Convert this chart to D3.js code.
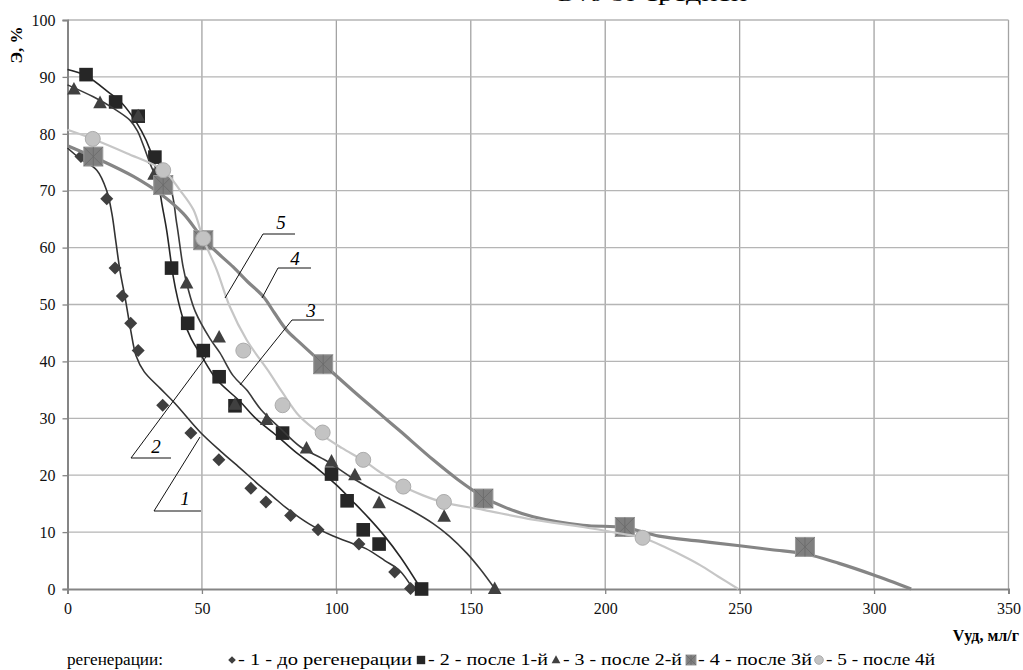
<!DOCTYPE html>
<html><head><meta charset="utf-8">
<script src="https://cdn.jsdelivr.net/npm/d3@7/dist/d3.min.js"></script>
<style>
body{margin:0;background:#fff;}
svg{display:block;}
</style></head>
<body><svg id="c" width="1023" height="670"></svg>
<script>
// ---- data ----
const xTicks = [0, 50, 100, 150, 200, 250, 300, 350];
const yTicks = [0, 10, 20, 30, 40, 50, 60, 70, 80, 90, 100];

const seriesNames = ["1 - до регенерации", "2 - после 1-й", "3 - после 2-й", "4 - после 3й", "5 - после 4й"];

const pts1 = [[5,76],[14.6,68.6],[17.7,56.4],[20.4,51.5],[23.5,46.7],[26.3,41.9],[35.4,32.3],[45.9,27.4],[56.3,22.7],[68.2,17.7],[73.8,15.3],[83,12.9],[93.2,10.4],[108.4,7.9],[121.7,3.0],[127.6,0.1]];
const pts2 = [[6.9,90.4],[17.9,85.6],[26.3,83.1],[32.5,75.9],[38.7,56.4],[44.7,46.7],[50.5,41.9],[56.4,37.3],[62.3,32.2],[80,27.4],[98.2,20.2],[104,15.5],[110,10.4],[115.9,7.9],[131.7,0]];
const pts3 = [[2.4,87.8],[12.1,85.4],[26.3,83.1],[32.2,72.8],[44.3,53.7],[56.4,44.2],[62.3,32.4],[74.1,29.7],[88.9,24.7],[98.2,22.4],[106.9,20.0],[115.9,15.1],[140.1,12.7],[158.9,0]];
const pts4 = [[9.6,76],[35.6,71],[50.5,61.3],[95.1,39.5],[154.7,15.9],[207.3,10.9],[274.3,7.4]];
const pts5 = [[9.4,79.1],[35.6,73.6],[50.5,61.6],[65.4,41.9],[80,32.3],[94.9,27.5],[110,22.7],[124.9,18.0],[140,15.3],[213.9,9.0]];

const curve1 = [[0,77.5],[5,75.5],[10.9,73.6],[14.6,70],[16.5,66],[18,61],[19.5,56],[21.5,51],[23.5,45.5],[25.5,41],[28.5,38.2],[34.4,35.3],[40,32.6],[49.3,27.6],[57,24.2],[64.1,21.3],[70,18.8],[76.5,16.2],[81.5,14.2],[90,11.4],[98.8,9.3],[106,8],[111,7.1],[118,5],[123.6,3.2],[128.5,0]];
const curve2 = [[0,91.3],[6.9,90.2],[15.8,87.1],[20,85.5],[23.9,83.2],[27.5,80.5],[30.7,77.2],[33.5,72.5],[35,68],[36.9,63],[39.3,55],[41,51],[43,47.5],[46,44],[49.3,41.4],[55.5,36.8],[64.1,33],[70,30],[77.7,27],[85,24],[92.6,21.3],[100,18.3],[106.3,15.3],[112,12.5],[117.4,9.6],[124,5.5],[131.5,0]];
const curve3 = [[0,88.6],[9.6,86.5],[17,84.5],[23.2,82.4],[26,80.5],[28.2,78],[31.9,73.5],[35,71.5],[38.1,70.5],[40.6,64.3],[43,56.6],[45,52.5],[47.5,48.8],[53,44],[56.7,41.5],[61.6,37.5],[66.6,35],[72,31.5],[79,28.3],[86.6,25],[96.4,22.5],[106,19.5],[117,16.5],[128,13.8],[136,11.5],[142,9.3],[148.5,6.3],[153.5,3.5],[159,0]];
const curve4 = [[0,77.9],[12.1,75.4],[24.5,72.5],[34.4,69.5],[43,66],[50.5,61.5],[56,59],[61.6,56.6],[67,54],[72.8,51.4],[77,48.5],[81.5,45.5],[86.4,43.3],[95.2,39.5],[106.3,34.8],[117.4,30.3],[123.6,27.8],[136,22.7],[145,19.3],[154.6,16.2],[163,14.3],[173.2,12.7],[191.7,11.2],[207.3,10.8],[220,9.3],[235.3,8.4],[250,7.6],[262,6.9],[274.3,6.2],[287,4.5],[299.6,2.5],[313.8,0]];
const curve5 = [[0,80.7],[9.4,79.1],[22,76.6],[35.6,73.6],[41.8,70.1],[46.9,66.6],[50.5,61.5],[55.5,56.1],[60.4,49.6],[66.6,43.8],[75.3,37.9],[80,34.5],[86.4,30.3],[94.9,27],[102,24.8],[110,22.6],[117,20.3],[124.9,18],[132,16.5],[140,15.2],[154.7,13.9],[173.2,12.2],[191.7,10.9],[205,9.8],[213.9,9.0],[222.9,7.2],[229,5.8],[235.3,4.2],[242,2.2],[249.5,0]];

const annLabels = ["1", "2", "3", "4", "5"];

// ---- layout ----
const FONT = '"Liberation Serif"';
const svg = d3.select("#c");
const L = 67.5, R = 1008.5, T = 20, B = 589;
const x = d3.scaleLinear().domain([0, 350]).range([L, R]);
const y = d3.scaleLinear().domain([0, 100]).range([B, T]);

// partial title (cut off at top, as in the source)
svg.append("text").attr("x", 557).attr("y", 1).attr("font-size", 18)
  .attr("textLength", 190).attr("lengthAdjust", "spacingAndGlyphs")
  .text("Э% от средней");

// grid
const g = svg.append("g");
g.selectAll(".vg").data(xTicks.filter(d => d > 0)).join("line")
  .attr("x1", d => x(d)).attr("x2", d => x(d)).attr("y1", T).attr("y2", B)
  .attr("stroke", "#a3a3a3").attr("stroke-width", 1.3);
g.selectAll(".hg").data(yTicks.filter(d => d > 0)).join("line")
  .attr("x1", L).attr("x2", R).attr("y1", d => y(d)).attr("y2", d => y(d))
  .attr("stroke", "#b5b5b5").attr("stroke-width", 1.3);

// axes
const xAxis = d3.axisBottom(x).tickValues(xTicks).tickSize(5).tickPadding(9);
const yAxis = d3.axisLeft(y).tickValues(yTicks).tickSize(5).tickPadding(7);
const gx = svg.append("g").attr("transform", `translate(0,${B})`).call(xAxis);
const gy = svg.append("g").attr("transform", `translate(${L},0)`).call(yAxis);
[gx, gy].forEach(a => {
  a.select(".domain").attr("stroke", "#858585").attr("stroke-width", 2);
  a.selectAll(".tick line").attr("stroke", "#858585").attr("stroke-width", 1.3);
  a.selectAll(".tick text").attr("font-size", 16).attr("fill", "#111");
});
gy.selectAll(".tick text").attr("dy", "0.33em");

// axis titles
svg.append("text").attr("transform", "translate(22,45) rotate(-90)")
  .attr("text-anchor", "middle").attr("font-weight", "bold").attr("font-size", 17).text("Э, %");
svg.append("text").attr("x", 1019).attr("y", 641).attr("text-anchor", "end")
  .attr("font-weight", "bold").attr("font-size", 16).text("Vуд, мл/г");

// lines
const line = d3.line().x(d => x(d[0])).y(d => y(d[1])).curve(d3.curveCatmullRom.alpha(0.5));
const curves = [
  {data: curve1, color: "#333333", w: 1.6},
  {data: curve2, color: "#262626", w: 1.6},
  {data: curve3, color: "#3a3a3a", w: 1.6},
  {data: curve4, color: "#858585", w: 3.2},
  {data: curve5, color: "#c6c6c6", w: 2.2}
];

function diamond(sel, s) {
  sel.append("path").attr("d", `M0,${-s}L${s},0L0,${s}L${-s},0Z`).attr("fill", "#3f3f3f");
}
function square(sel, s) {
  sel.append("rect").attr("x", -s).attr("y", -s).attr("width", 2*s).attr("height", 2*s).attr("fill", "#262626");
}
function triangle(sel, s) {
  sel.append("path").attr("d", `M0,${-s*1.1}L${s},${s*0.75}L${-s},${s*0.75}Z`).attr("fill", "#404040");
}
function xsquare(sel, s) {
  sel.append("rect").attr("x", -s).attr("y", -s).attr("width", 2*s).attr("height", 2*s)
    .attr("fill", "#7f7f7f").attr("stroke", "#9c9c9c").attr("stroke-width", 1);
  sel.append("path").attr("d", `M${-s},${-s}L${s},${s}M${s},${-s}L${-s},${s}M0,${-s}L0,${s}`)
    .attr("stroke", "#6a6a6a").attr("stroke-width", 0.8);
}
function circle(sel, s) {
  sel.append("circle").attr("r", s).attr("fill", "#c3c3c3").attr("stroke", "#ababab").attr("stroke-width", 1);
}

const markers = [
  {data: pts1, fn: diamond, s: 6.5},
  {data: pts2, fn: square, s: 6.8},
  {data: pts3, fn: triangle, s: 6.8},
  {data: pts4, fn: xsquare, s: 9.5},
  {data: pts5, fn: circle, s: 7.5}
];

curves.forEach((c, i) => {
  svg.append("path").datum(c.data).attr("d", line).attr("fill", "none")
    .attr("stroke", c.color).attr("stroke-width", c.w);
  const m = markers[i];
  svg.append("g").selectAll("g").data(m.data).join("g")
    .attr("transform", d => `translate(${x(d[0])},${y(d[1])})`)
    .each(function() { m.fn(d3.select(this), m.s); });
});

// annotations
const ann = [
  {t: annLabels[0], tx: 185, ty: 505, ux1: 154, ux2: 201, uy: 511, lx: 200, ly: 437},
  {t: annLabels[1], tx: 156, ty: 453, ux1: 131, ux2: 171, uy: 458, lx: 206, ly: 357},
  {t: annLabels[2], tx: 311, ty: 317, ux1: 292, ux2: 324, uy: 320, lx: 240, ly: 385},
  {t: annLabels[3], tx: 295, ty: 265, ux1: 278, ux2: 311, uy: 268, lx: 262, ly: 298},
  {t: annLabels[4], tx: 281, ty: 229, ux1: 263, ux2: 295, uy: 234, lx: 225, ly: 298}
];
const ag = svg.append("g");
ann.forEach(a => {
  ag.append("path").attr("d", `M${a.lx},${a.ly}L${a.ux1},${a.uy}L${a.ux2},${a.uy}`)
    .attr("fill", "none").attr("stroke", "#111").attr("stroke-width", 1);
  ag.append("text").attr("x", a.tx).attr("y", a.ty).attr("text-anchor", "middle")
    .attr("font-style", "italic").attr("font-size", 19).text(a.t);
});

// legend
const lg = svg.append("g").attr("font-size", 16);
lg.append("text").attr("x", 67).attr("y", 665).attr("textLength", 96)
  .attr("lengthAdjust", "spacingAndGlyphs").text("регенерации:");
const legPos = [
  {mx: 232, tx: 238, w: 174},
  {mx: 421, tx: 428, w: 120},
  {mx: 556, tx: 563, w: 119},
  {mx: 691, tx: 698, w: 114},
  {mx: 819, tx: 826, w: 109}
];
const legSize = [3.8, 4.2, 4.4, 5, 4.3];
seriesNames.forEach((n, i) => {
  const mg = lg.append("g").attr("transform", `translate(${legPos[i].mx},660)`);
  markers[i].fn(mg, legSize[i]);
  lg.append("text").attr("x", legPos[i].tx).attr("y", 665)
    .attr("textLength", legPos[i].w).attr("lengthAdjust", "spacingAndGlyphs")
    .text("- " + n);
});

// apply the serif font to every text
svg.selectAll("text").style("font-family", FONT);
</script></body></html>
